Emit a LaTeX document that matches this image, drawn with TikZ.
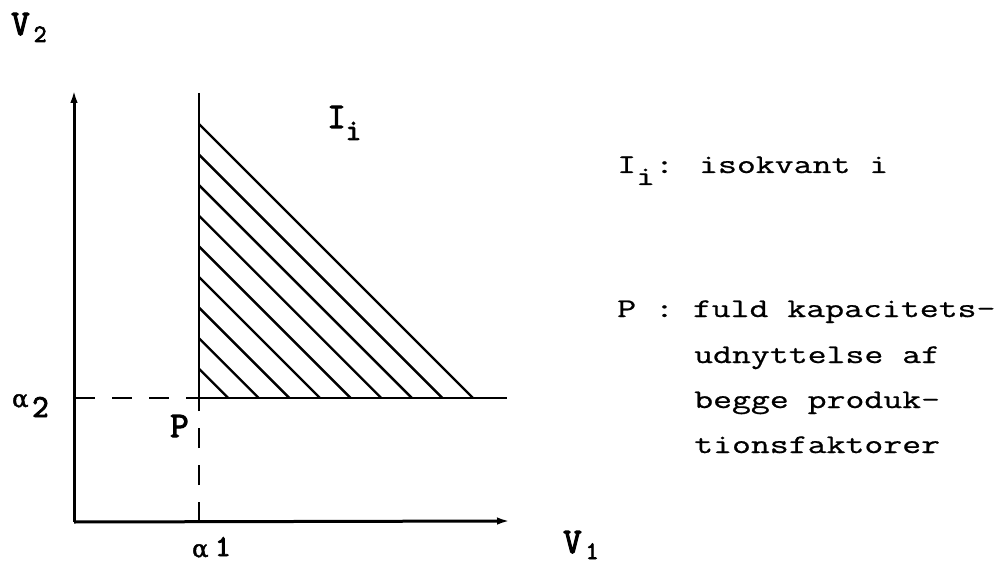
\documentclass[tikz,border=0pt]{standalone}
\usepackage{fontspec}
\usetikzlibrary{arrows.meta}
\newfontfamily\rtfont{Latin Modern Mono}[FakeStretch=1.36,FakeBold=0.8]
\newfontfamily\lbfont{Latin Modern Mono}[FakeBold=3]
\newfontfamily\grfont{DejaVu Serif}[FakeBold=2]
\begin{document}
\begin{tikzpicture}[x=1pt,y=-1pt,
  axis/.style={line width=3pt,-{Latex[length=13pt,width=7.5pt]}},
  bound/.style={line width=2.9pt},
  hatchline/.style={line width=2.4pt},
  guide/.style={line width=2.6pt,dash pattern=on 20pt off 17pt},
  lab/.style={inner sep=0pt,anchor=base west,font=\lbfont\fontsize{36}{36}\selectfont},
  grk/.style={inner sep=0pt,anchor=base west,font=\grfont\fontsize{24}{24}\selectfont},
  txt/.style={inner sep=0pt,anchor=base west,font=\rtfont\fontsize{27}{27}\selectfont}]
\useasboundingbox (0,0) rectangle (1001,564);
\coordinate (O) at (74,522);
\coordinate (Ytop) at (74,90);
\coordinate (Xend) at (510,521);
\coordinate (P) at (199,398);
\coordinate (Vtop) at (199,93);
\coordinate (Hend) at (507,398);
\coordinate (Ax) at (199,522);
\coordinate (Ay) at (75,398);
\coordinate (T) at (199,124);
\coordinate (B) at (473,398);
% axes
\draw[axis] (O) -- (Ytop);
\draw[axis] (O) -- (Xend);
% boundary of isoquant
\draw[bound] (Vtop) -- (P) -- (Hend);
\draw[guide] (Ay) -- (P);
\draw[guide] (Ax) -- (P);
% hatching
\draw[hatchline] (T) -- (B);
\foreach \k in {1,...,8}
  \draw[hatchline] (199,{124+30.6*\k}) -- ({473-30.6*\k},398);
% graph labels
\node[lab] (v2) at (11,35) {V\hspace{4pt}\raisebox{-7pt}{\fontsize{25}{25}\selectfont 2}};
\node[grk] (a2g) at (12,407) {α};
\node[lab] (a2) at (32,417) {\fontsize{32}{32}\selectfont 2};
\node[grk] (a1g) at (192,557) {α};
\node[lab] (a1) at (215,556) {\fontsize{30}{30}\selectfont 1};
\node[lab] (v1) at (563,553) {V\hspace{4pt}\raisebox{-6pt}{\fontsize{25}{25}\selectfont 1}};
\node[lab] (ii) at (327,128) {I\raisebox{-12pt}{\fontsize{30}{30}\selectfont i}};
\node[lab] (pp) at (170,437) {P};
% legend
\node[txt] (l1) at (617,173) {I\raisebox{-12pt}{i}: isokvant i};
\node[txt] (l2) at (617,317) {P : fuld kapacitets-};
\node[txt] (l3) at (694,363) {udnyttelse af};
\node[txt] (l4) at (694,408) {begge produk-};
\node[txt] (l5) at (694,453) {tionsfaktorer};
\end{tikzpicture}
\end{document}
